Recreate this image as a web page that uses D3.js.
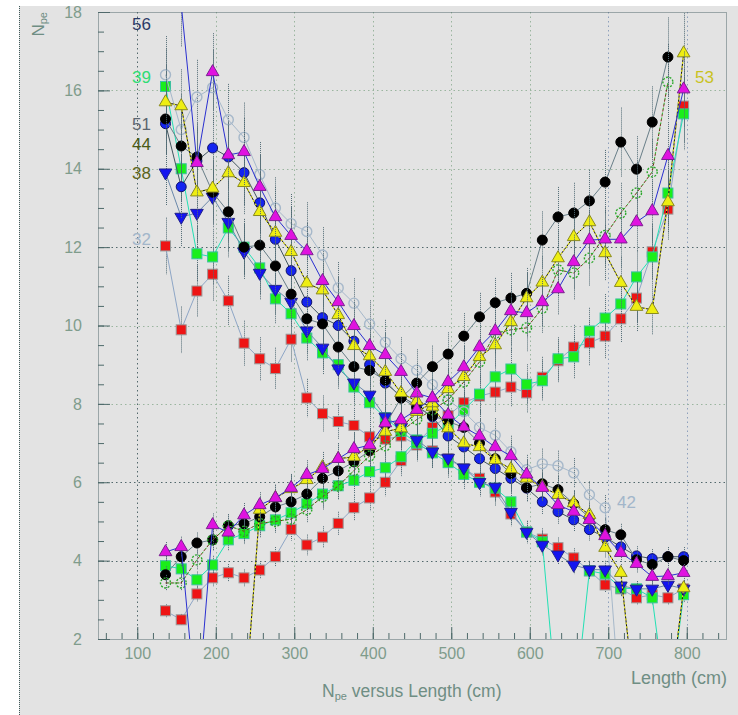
<!DOCTYPE html>
<html>
<head>
<meta charset="utf-8">
<script src="https://cdn.jsdelivr.net/npm/d3@7"></script>
<style>
  body { margin: 0; background: #fff; }
  svg { display: block; font-family: "Liberation Sans", Arial, sans-serif; }
  .tick text { fill: #7f9c8c; font-size: 16px; }
  .tick line { stroke: #4e6a6a; }
</style>
</head>
<body>
<div id="chart"></div>
<script>
// bin centres (cm)
var lengths = [136,156,176,196,216,236,256,276,296,316,336,356,376,396,416,436,456,
               476,496,516,536,556,576,596,616,636,656,676,696,716,736,756,776,796];

// each channel: falling branch (A) and rising branch (B); 0 = point below the frame
var redA = [12.03,9.89,10.88,11.31,10.63,9.55,9.15,8.9,9.65,8.15,7.75,7.55,7.45,7.16,7.1,7.18,6.95,
            6.8,6.6,6.35,6.1,5.75,5.19,4.73,4.55,4.33,4.07,3.74,3.38,3.28,3.05,3.13,3.05,3.28];
var redB = [2.72,2.49,3.15,3.56,3.69,3.56,3.76,4.1,4.8,4.4,4.6,4.95,5.35,5.6,6.0,6.55,7.0,
            7.4,7.7,8.03,8.2,8.3,8.43,8.28,8.68,9.1,9.45,9.56,9.73,10.17,10.7,11.88,12.97,15.6];
var greenA = [16.1,14.0,11.83,11.75,12.49,12.0,11.47,10.68,10.3,9.68,9.3,9.0,8.43,8.03,7.65,7.3,7.0,
              6.75,6.5,6.2,6.0,5.85,5.5,4.73,4.48,0,0,3.74,3.66,3.3,3.28,3.05,0,3.13];
var greenB = [3.87,3.79,3.51,3.89,4.53,4.69,4.89,5.04,5.22,5.45,5.7,5.91,6.05,6.27,6.37,6.65,7.08,
              7.25,7.45,7.84,8.25,8.69,8.89,8.5,8.59,9.15,9.2,9.86,10.19,10.55,11.24,11.75,13.38,15.4];
var greyA = [16.4,15.0,15.83,16.07,15.25,14.8,13.85,13.0,12.6,12.4,11.8,10.96,10.57,10.04,9.57,9.15,8.86,
             8.49,8.1,7.8,7.4,7.2,6.78,6.32,6.47,6.42,6.24,5.68,5.35,0,null,null,null,null];
var btriA = [13.9,12.77,12.87,13.28,12.64,11.88,11.34,10.93,10.6,9.87,9.43,8.9,8.54,8.23,7.67,7.4,7.08,
             6.78,6.62,6.37,6.0,5.88,5.24,4.73,4.4,4.15,3.89,3.77,3.77,3.36,3.28,3.28,3.38,3.28];
var bcircA = [15.15,13.54,14.2,14.53,14.3,13.9,13.13,12.2,11.4,10.6,10.2,10.0,9.6,9.0,8.53,8.2,7.95,
              7.67,7.18,6.9,6.6,6.35,6.1,5.85,5.5,5.25,5.04,4.79,4.6,4.35,4.12,4.05,4.1,4.1];
var blackA = [15.27,14.58,14.3,13.4,12.9,12.0,12.05,11.52,10.8,10.17,10.04,9.45,8.95,8.85,8.6,8.15,7.9,
              7.7,7.55,7.4,7.0,6.6,6.22,5.86,5.96,5.81,5.45,5.1,4.79,4.66,4.02,3.9,4.1,4.0];
var blackB = [3.64,4.1,4.45,4.53,4.89,4.94,5.12,5.37,5.5,5.7,6.1,6.29,6.52,6.8,7.46,8.15,8.53,
              8.95,9.27,9.73,10.22,10.58,10.7,10.82,12.18,12.77,12.87,13.18,13.66,14.68,13.99,15.19,16.85,null];
var openB = [3.43,3.43,4.02,4.53,4.89,4.75,4.95,5.0,5.06,5.3,5.63,5.9,6.3,6.67,6.93,7.3,7.6,
             7.85,8.1,8.56,9.07,9.8,9.89,9.94,10.44,11.42,11.34,11.72,12.3,12.87,13.38,13.92,16.21,null];
var yellowA = [15.7,15.6,13.4,13.5,13.89,13.64,12.9,12.37,11.88,11.08,10.9,10.27,9.48,9.22,8.82,8.28,8.07,
               7.93,7.38,7.0,6.9,6.57,6.34,6.1,5.88,5.68,5.47,5.17,4.33,3.69,0,0,0,3.3];
var yellowB = [0,0,0,0,0,0,5.3,5.6,5.83,6.06,6.39,6.6,6.65,6.93,7.29,7.38,7.8,
               8.02,8.38,8.69,9.2,9.5,10.09,10.7,11.1,11.72,12.26,12.64,11.85,11.09,10.48,10.4,13.15,16.95];
var magA = [null,18.2,14.15,16.47,14.35,14.43,13.54,12.77,12.29,11.9,11.14,10.6,9.99,9.48,9.25,8.82,8.27,
            8.15,7.72,7.41,7.18,6.9,6.67,6.2,5.86,5.42,5.25,5.04,4.63,4.2,3.92,3.59,3.61,3.69];
var magB = [4.22,4.35,0,4.91,4.72,5.16,5.42,5.6,5.86,6.19,6.34,6.6,6.85,6.95,7.51,7.59,7.85,
            8.15,8.56,8.94,9.45,9.86,10.37,10.32,10.6,10.93,11.62,12.18,12.2,12.2,12.64,12.92,14.33,16.03];

var xTicks = [100,200,300,400,500,600,700,800];
var yTicks = [2,4,6,8,10,12,14,16,18];

var channelLabels = [
  {text: '56', x: 151, y: 17.7, color: '#2c3a66', anchor: 'end'},
  {text: '39', x: 151, y: 16.35, color: '#2fdc74', anchor: 'end'},
  {text: '51', x: 151, y: 15.15, color: '#5c6670', anchor: 'end'},
  {text: '44', x: 151, y: 14.63, color: '#4a5a14', anchor: 'end'},
  {text: '38', x: 151, y: 13.9, color: '#5b6420', anchor: 'end'},
  {text: '32', x: 151, y: 12.2, color: '#a2b6ca', anchor: 'end'},
  {text: '53', x: 695, y: 16.35, color: '#c9c21e', anchor: 'start'},
  {text: '42', x: 617, y: 5.5, color: '#a2b6ca', anchor: 'start'}
];

var W = 738, H = 715;
var L = 98, R = 726, T = 12, B = 639;

var svg = d3.select('#chart').append('svg').attr('width', W).attr('height', H);

// canvas pad
svg.append('rect').attr('x', 19).attr('y', 6).attr('width', W - 19).attr('height', H - 6)
    .attr('fill', '#e3e3e3');
svg.append('line').attr('x1', 19.5).attr('x2', 19.5).attr('y1', 6).attr('y2', H)
    .attr('stroke', '#3f5a5a').attr('stroke-dasharray', '1,1');

var x = d3.scaleLinear().domain([50, 850]).range([L, R]);
var y = d3.scaleLinear().domain([2, 18]).range([B, T]);

// grid
var darkX = [100], blueX = [700, 800], darkY = [4, 6, 12];
svg.append('g').selectAll('line').data(xTicks).enter().append('line')
    .attr('x1', function(d) { return Math.round(x(d)) + 0.5; })
    .attr('x2', function(d) { return Math.round(x(d)) + 0.5; })
    .attr('y1', T).attr('y2', B)
    .attr('stroke', function(d) {
        return darkX.indexOf(d) >= 0 ? '#52686c' : (blueX.indexOf(d) >= 0 ? '#8ea0bc' : '#9ab59f');
    })
    .attr('stroke-dasharray', '1.5,3');
svg.append('g').selectAll('line').data(yTicks.slice(1, -1)).enter().append('line')
    .attr('x1', L).attr('x2', R)
    .attr('y1', function(d) { return Math.round(y(d)) + 0.5; })
    .attr('y2', function(d) { return Math.round(y(d)) + 0.5; })
    .attr('stroke', function(d) { return darkY.indexOf(d) >= 0 ? '#52686c' : '#9ab59f'; })
    .attr('stroke-dasharray', '1.5,3');

// axes, ticks pointing into the frame
var yMinor = d3.range(2, 18.01, 0.5);
svg.append('g').attr('transform', 'translate(' + L + ',0)')
    .call(d3.axisLeft(y).tickValues(yMinor).tickSize(-6).tickFormat(''))
    .call(function(g) { g.select('.domain').remove(); });
svg.append('g').attr('transform', 'translate(' + L + ',0)')
    .call(d3.axisLeft(y).tickValues(yTicks).tickSize(-12).tickPadding(16))
    .call(function(g) { g.select('.domain').remove(); });

var xMinor = d3.range(60, 841, 20);
svg.append('g').attr('transform', 'translate(0,' + B + ')')
    .call(d3.axisBottom(x).tickValues(xMinor).tickSize(-6).tickFormat(''))
    .call(function(g) { g.select('.domain').remove(); });
svg.append('g').attr('transform', 'translate(0,' + B + ')')
    .call(d3.axisBottom(x).tickValues(xTicks).tickSize(-12).tickPadding(9))
    .call(function(g) { g.select('.domain').remove(); });

// frame
svg.append('rect').attr('x', L + 0.5).attr('y', T + 0.5).attr('width', R - L).attr('height', B - T)
    .attr('fill', 'none').attr('stroke', '#52686c').attr('stroke-dasharray', '1,1');

svg.append('clipPath').attr('id', 'frame').append('rect')
    .attr('x', L).attr('y', T).attr('width', R - L).attr('height', B - T);
var plot = svg.append('g').attr('clip-path', 'url(#frame)');

var series = [
  {values: redA,    shape: 'square',  fill: '#ee1414', stroke: '#9a9a9a', line: '#8ea6c6'},
  {values: redB,    shape: 'square',  fill: '#ee1414', stroke: '#9a9a9a', line: '#8ea6c6'},
  {values: greenA,  shape: 'square',  fill: '#1aee1a', stroke: '#3cc0a0', line: '#22e0b4'},
  {values: greenB,  shape: 'square',  fill: '#1aee1a', stroke: '#3cc0a0', line: '#22e0b4'},
  {values: greyA,   shape: 'open',    fill: 'none',    stroke: '#a6b8ca', line: '#a6b8ca'},
  {values: btriA,   shape: 'down',    fill: '#1414f0', stroke: '#20208a', line: '#6a88aa'},
  {values: bcircA,  shape: 'circle',  fill: '#1424f0', stroke: '#10106a', line: '#425660'},
  {values: blackA,  shape: 'circle',  fill: '#000',    stroke: '#000',    line: '#687e88'},
  {values: blackB,  shape: 'circle',  fill: '#000',    stroke: '#000',    line: '#687e88'},
  {values: openB,   shape: 'open',    fill: 'none',    stroke: '#2aa82a', line: '#7a2a1a', dash: '3,2'},
  {values: yellowA, shape: 'up',      fill: '#eeee12', stroke: '#8a8a20', line: '#111', over: '#e6e620'},
  {values: yellowB, shape: 'up',      fill: '#eeee12', stroke: '#8a8a20', line: '#111', over: '#e6e620'},
  {values: magA,    shape: 'up',      fill: '#e012e0', stroke: '#7a2090', line: '#2a30d0'},
  {values: magB,    shape: 'up',      fill: '#e012e0', stroke: '#7a2090', line: '#2a30d0'}
];

var relErr = 0.06;

var line = d3.line()
    .defined(function(d) { return d.v !== null; })
    .x(function(d) { return x(d.len); })
    .y(function(d) { return y(d.v); });

var tri = d3.symbol().type(d3.symbolTriangle).size(70);

series.forEach(function(s) {
    var pts = s.values.map(function(v, i) { return {len: lengths[i], v: v}; });
    var shown = pts.filter(function(d) { return d.v !== null && d.v > 0; });
    var g = plot.append('g');

    g.selectAll('line.err').data(shown).enter().append('line')
        .attr('x1', function(d) { return Math.round(x(d.len)) + 0.5; })
        .attr('x2', function(d) { return Math.round(x(d.len)) + 0.5; })
        .attr('y1', function(d) { return y(d.v * (1 + relErr)); })
        .attr('y2', function(d) { return y(d.v * (1 - relErr)); })
        .attr('stroke', '#506a74').attr('stroke-dasharray', '1,1');

    g.append('path').attr('d', line(pts)).attr('fill', 'none')
        .attr('stroke', s.line).attr('stroke-width', 1)
        .attr('stroke-dasharray', s.dash || null);
    if (s.over) {
        g.append('path').attr('d', line(pts)).attr('fill', 'none')
            .attr('stroke', s.over).attr('stroke-width', 1.2).attr('stroke-dasharray', '2,2');
    }
    if (s.dash) {
        g.append('path').attr('d', line(pts)).attr('fill', 'none')
            .attr('stroke', '#3cc03c').attr('stroke-width', 1)
            .attr('stroke-dasharray', '2,3').attr('stroke-dashoffset', 3);
    }

    var m = g.selectAll('.mk').data(shown).enter();
    if (s.shape === 'square') {
        m.append('rect')
            .attr('x', function(d) { return x(d.len) - 5; })
            .attr('y', function(d) { return y(d.v) - 5; })
            .attr('width', 10).attr('height', 10)
            .attr('fill', s.fill).attr('stroke', s.stroke).attr('stroke-width', 1);
    } else if (s.shape === 'circle' || s.shape === 'open') {
        m.append('circle')
            .attr('cx', function(d) { return x(d.len); })
            .attr('cy', function(d) { return y(d.v); })
            .attr('r', 5)
            .attr('fill', s.fill).attr('stroke', s.stroke)
            .attr('stroke-width', s.shape === 'open' ? 1.4 : 1)
            .attr('stroke-dasharray', s.shape === 'open' && s.dash ? '2,1.5' : null);
    } else {
        m.append('path').attr('d', tri)
            .attr('transform', function(d) {
                return 'translate(' + x(d.len) + ',' + y(d.v) + ')' + (s.shape === 'down' ? ' rotate(180)' : '');
            })
            .attr('fill', s.fill).attr('stroke', s.stroke).attr('stroke-width', 1);
    }
});

// channel numbers
svg.append('g').selectAll('text').data(channelLabels).enter().append('text')
    .attr('x', function(d) { return d.x; })
    .attr('y', function(d) { return y(d.y) + 6; })
    .attr('text-anchor', function(d) { return d.anchor; })
    .attr('fill', function(d) { return d.color; })
    .attr('font-size', 17)
    .text(function(d) { return d.text; });

// titles
var xt = svg.append('text').attr('x', 322).attr('y', 697).attr('fill', '#6f8e84').attr('font-size', 17.5);
xt.append('tspan').text('N');
xt.append('tspan').attr('font-size', 11).attr('dy', 3).text('pe');
xt.append('tspan').attr('dy', -3).text(' versus Length (cm)');

svg.append('text').attr('x', 727).attr('y', 684).attr('text-anchor', 'end')
    .attr('fill', '#6f8e84').attr('font-size', 18).text('Length (cm)');

var yt = svg.append('text').attr('transform', 'translate(44,12) rotate(-90)')
    .attr('text-anchor', 'end').attr('fill', '#6f8e84').attr('font-size', 17);
yt.append('tspan').text('N');
yt.append('tspan').attr('font-size', 11).attr('dy', 3).text('pe');
</script>
</body>
</html>
